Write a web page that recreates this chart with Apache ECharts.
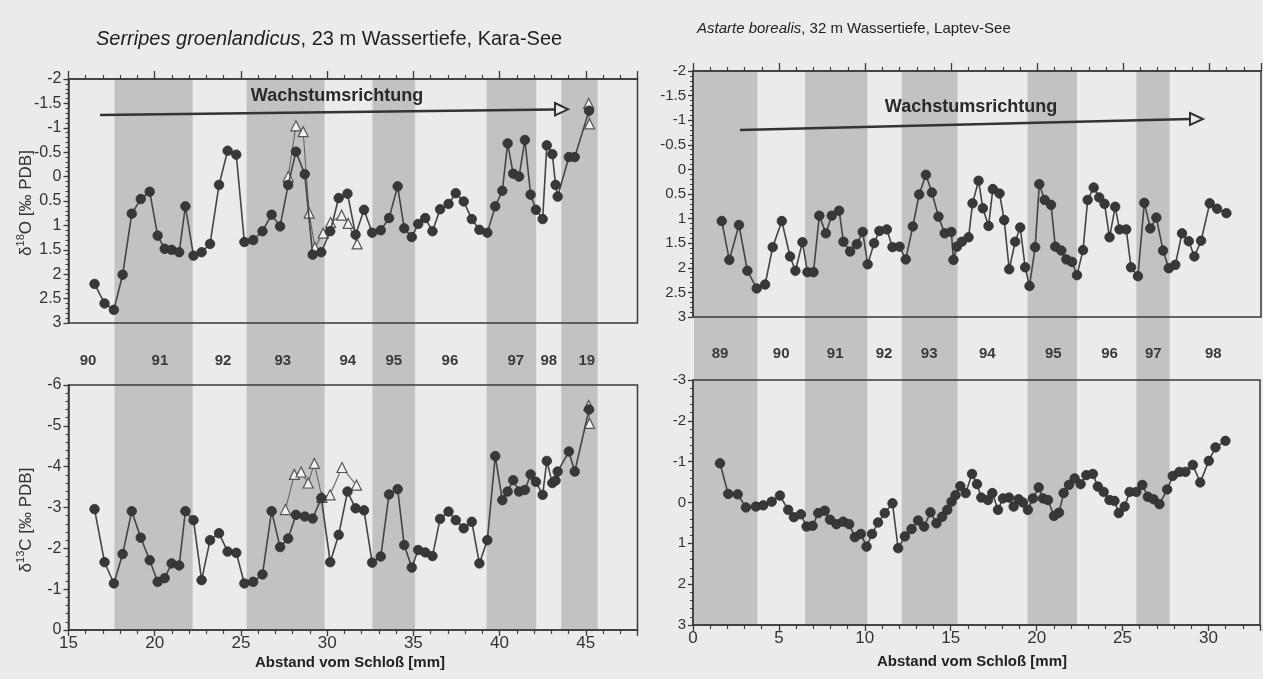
<!DOCTYPE html>
<html><head><meta charset="utf-8">
<script src="https://cdn.jsdelivr.net/npm/echarts@6/dist/echarts.min.js"></script>
<style>html,body{margin:0;padding:0;background:#ebebeb}#c{width:1263px;height:679px}</style>
</head><body><div id="c"></div>
<script>
// ---------- DATA ----------
// Serripes groenlandicus (Kara-See), distance from hinge [mm]
const serripesDist = [16.51,17.09,17.63,18.14,18.67,19.19,19.71,20.17,20.58,20.98,21.42,21.78,22.25,22.72,23.21,23.73,24.23,24.73,25.20,25.71,26.25,26.78,27.27,27.74,28.19,28.70,29.16,29.66,30.18,30.67,31.18,31.65,32.14,32.61,33.11,33.59,34.09,34.47,34.91,35.28,35.69,36.11,36.55,37.04,37.46,37.92,38.39,38.83,39.29,39.75,40.16,40.47,40.79,41.13,41.47,41.80,42.11,42.50,42.74,43.06,43.25,43.37,44.02,44.36,45.19];
const serripesO18 = [2.20,2.60,2.73,2.01,0.76,0.46,0.31,1.21,1.48,1.50,1.55,0.61,1.62,1.55,1.38,0.17,-0.53,-0.45,1.34,1.30,1.12,0.78,1.02,0.17,-0.51,-0.05,1.60,1.55,1.12,0.44,0.35,1.19,0.68,1.15,1.10,0.85,0.20,1.06,1.24,0.97,0.85,1.12,0.67,0.56,0.34,0.51,0.87,1.09,1.15,0.61,0.29,-0.68,-0.06,0.00,-0.75,0.37,0.68,0.87,-0.64,-0.46,0.17,0.41,-0.40,-0.40,-1.35];
const serripesC13 = [-2.96,-1.66,-1.14,-1.86,-2.91,-2.26,-1.71,-1.18,-1.27,-1.63,-1.58,-2.91,-2.69,-1.22,-2.20,-2.37,-1.92,-1.89,-1.14,-1.18,-1.36,-2.91,-2.03,-2.24,-2.82,-2.78,-2.73,-3.23,-1.66,-2.33,-3.39,-2.98,-2.93,-1.65,-1.80,-3.32,-3.45,-2.08,-1.53,-1.96,-1.90,-1.81,-2.72,-2.90,-2.69,-2.49,-2.65,-1.63,-2.20,-4.26,-3.18,-3.39,-3.67,-3.39,-3.43,-3.81,-3.63,-3.31,-4.14,-3.60,-3.66,-3.88,-4.37,-3.88,-5.40];
// second measurement series (open triangles); null = gap in the line
const serripesTriDistO18 = [27.74,28.19,28.61,28.96,29.29,29.77,30.20,30.84,31.22,31.74,null,45.17,45.22];
const serripesTriO18 = [0.00,-1.04,-0.92,0.75,1.45,1.16,0.94,0.79,0.96,1.38,null,-1.50,-1.08];
const serripesTriDistC13 = [27.58,28.10,28.49,28.90,29.26,29.70,30.17,30.86,31.70,null,45.17,45.22];
const serripesTriC13 = [-2.95,-3.81,-3.87,-3.60,-4.08,-3.25,-3.31,-3.98,-3.55,null,-5.50,-5.06];

// Astarte borealis (Laptev-See)
const astarteDistO18 = [1.67,2.11,2.67,3.16,3.70,4.19,4.63,5.16,5.64,5.95,6.36,6.65,7.00,7.34,7.72,8.06,8.49,8.74,9.13,9.52,9.86,10.15,10.52,10.83,11.26,11.59,12.00,12.36,12.77,13.14,13.53,13.88,14.26,14.62,15.01,15.13,15.33,15.62,16.01,16.24,16.59,16.84,17.17,17.42,17.81,18.08,18.37,18.72,19.01,19.30,19.55,19.88,20.12,20.43,20.80,21.05,21.40,21.69,22.02,22.31,22.66,22.93,23.28,23.60,23.91,24.20,24.53,24.78,25.17,25.45,25.85,26.22,26.57,26.92,27.31,27.64,28.02,28.41,28.80,29.13,29.52,30.02,30.45,30.99];
const astarteO18 = [1.05,1.84,1.13,2.06,2.42,2.34,1.58,1.05,1.77,2.06,1.48,2.09,2.09,0.94,1.30,0.94,0.84,1.47,1.67,1.52,1.27,1.93,1.50,1.25,1.22,1.58,1.57,1.83,1.16,0.51,0.11,0.47,0.96,1.30,1.27,1.84,1.57,1.47,1.38,0.69,0.23,0.79,1.15,0.40,0.49,1.03,2.03,1.47,1.18,1.99,2.37,1.58,0.30,0.62,0.72,1.57,1.65,1.83,1.88,2.15,1.64,0.62,0.37,0.57,0.70,1.38,0.76,1.22,1.22,1.99,2.17,0.68,1.20,0.98,1.65,2.01,1.94,1.30,1.46,1.77,1.45,0.69,0.80,0.89];
const astarteDistC13 = [1.57,2.05,2.60,3.08,3.66,4.09,4.58,5.06,5.54,5.87,6.28,6.61,6.96,7.29,7.67,7.97,8.35,8.74,9.09,9.42,9.77,10.10,10.42,10.77,11.16,11.61,11.94,12.33,12.72,13.10,13.45,13.82,14.17,14.50,14.80,15.05,15.28,15.56,15.87,16.24,16.53,16.78,17.17,17.42,17.75,18.04,18.39,18.66,18.95,19.20,19.49,19.78,20.12,20.37,20.66,21.01,21.30,21.57,21.88,22.21,22.56,22.89,23.27,23.56,23.90,24.24,24.53,24.78,25.12,25.41,25.80,26.15,26.47,26.80,27.15,27.60,27.92,28.31,28.66,29.09,29.52,30.02,30.41,30.99];
const astarteC13 = [-0.96,-0.21,-0.20,0.12,0.10,0.07,-0.02,-0.17,0.18,0.36,0.29,0.59,0.57,0.26,0.20,0.42,0.53,0.47,0.53,0.85,0.77,1.08,0.77,0.49,0.26,0.02,1.12,0.83,0.65,0.44,0.59,0.24,0.51,0.35,0.18,-0.02,-0.18,-0.40,-0.23,-0.70,-0.45,-0.12,-0.06,-0.23,0.18,-0.10,-0.12,0.10,-0.08,0.00,0.18,-0.10,-0.37,-0.10,-0.06,0.33,0.25,-0.23,-0.43,-0.59,-0.45,-0.67,-0.70,-0.39,-0.26,-0.06,-0.04,0.26,0.10,-0.26,-0.26,-0.43,-0.14,-0.08,0.04,-0.32,-0.65,-0.75,-0.75,-0.92,-0.49,-1.02,-1.35,-1.51];

// shaded growth bands [start, end] in mm
const serripesBands = [[17.67,22.20],[25.33,29.85],[32.63,35.10],[39.25,42.12],[43.58,45.69]];
const astarteBands = [[0.06,3.74],[6.51,10.13],[12.13,15.37],[19.44,22.31],[25.76,27.69]];
// year labels and their positions [mm]
const serripesYears = ['90','91','92','93','94','95','96','97','98','19'];
const serripesYearPos = [16.13,20.30,23.96,27.43,31.20,33.87,37.12,40.94,42.86,45.06];
const astarteYears = ['89','90','91','92','93','94','95','96','97','98'];
const astarteYearPos = [1.57,5.12,8.26,11.10,13.72,17.10,20.93,24.20,26.74,30.23];
// axis ranges [min, max, interval]
const serripesXRange = [15, 48, 5];
const astarteXRange = [0, 33, 5];
const o18Range = [-2, 3, 0.5];
const serripesC13Range = [-6, 0, 1];
const astarteC13Range = [-3, 3, 1];

// ---------- CHART ----------
const FONT = 'Liberation Sans, Arial, Helvetica, sans-serif';
const INK = '#333';
const AX = '#3a3a3a';
const pairs = (xs, ys) => xs.map((x, i) => [x == null ? '-' : x, ys[i] == null ? '-' : ys[i]]);

const G = {
  lt: {left: 68.5, top: 79, width: 569, height: 244},
  lb: {left: 68.5, top: 385, width: 569, height: 245},
  rt: {left: 693, top: 71, width: 568, height: 246},
  rb: {left: 693, top: 380, width: 568, height: 245},
  lBand: {left: 68.5, top: 79, width: 569, height: 551},
  rBand: {left: 693, top: 71, width: 568, height: 554}
};
function grid(g, show) {
  return Object.assign({show: show, borderColor: AX, borderWidth: 1.5, backgroundColor: 'transparent', containLabel: false, z: 3}, g);
}
function xAx(gi, r, pos, labels, fs, show) {
  return {
    type: 'value', gridIndex: gi, min: r[0], max: r[1], interval: r[2], position: pos, show: show !== false, z: 3,
    axisLine: {show: true, onZero: false, lineStyle: {color: AX, width: 1.5}},
    axisTick: {show: true, length: pos === 'top' ? 8 : 6, lineStyle: {color: AX, width: 1.3}},
    minorTick: {show: true, splitNumber: 5, length: 4, lineStyle: {color: AX, width: 1.1}},
    splitLine: {show: false},
    axisLabel: {show: labels, color: INK, fontSize: fs, fontFamily: FONT, margin: 5,
      formatter: v => (Math.abs(v % r[2]) < 1e-9 ? String(v) : '')}
  };
}
function yAx(gi, r, fs, show) {
  return {
    type: 'value', gridIndex: gi, min: r[0], max: r[1], interval: r[2], inverse: true, show: show !== false, z: 3,
    axisLine: {show: true, onZero: false, lineStyle: {color: AX, width: 1.5}},
    axisTick: {show: true, length: 5, lineStyle: {color: AX, width: 1.3}},
    minorTick: {show: true, splitNumber: 5, length: 3, lineStyle: {color: AX, width: 1}},
    splitLine: {show: false},
    axisLabel: {color: INK, fontSize: fs, fontFamily: FONT, margin: 7}
  };
}
function circles(xi, data) {
  return {type: 'line', xAxisIndex: xi, yAxisIndex: xi, data: data, symbol: 'circle', symbolSize: 9.5,
    itemStyle: {color: '#383838', borderColor: '#2e2e2e', borderWidth: 0.8},
    lineStyle: {color: '#444', width: 1.6}, z: 6, animation: false, silent: true};
}
function triangles(xi, data) {
  return {type: 'line', xAxisIndex: xi, yAxisIndex: xi, data: data, symbol: 'triangle', symbolSize: 10,
    connectNulls: false, showAllSymbol: true,
    itemStyle: {color: '#f1f1f1', borderColor: '#555', borderWidth: 1.2},
    lineStyle: {color: '#666', width: 1.1}, z: 5, animation: false, silent: true};
}
function bands(xi, data) {
  return {type: 'custom', xAxisIndex: xi, yAxisIndex: xi, data: data, z: 1, silent: true, animation: false,
    encode: {x: [0, 1]},
    renderItem: (params, api) => {
      const a = api.coord([api.value(0), 0]);
      const b = api.coord([api.value(1), 1]);
      return {type: 'rect', shape: {x: a[0], y: b[1], width: b[0] - a[0], height: a[1] - b[1]},
        style: {fill: '#c2c2c2'}};
    }};
}
function years(xi, pos, labels, yPix) {
  return {type: 'custom', xAxisIndex: xi, yAxisIndex: xi, data: pos.map(p => [p, 0.5]), z: 4, silent: true, animation: false,
    encode: {x: 0},
    renderItem: (params, api) => {
      const c = api.coord([api.value(0), 0.5]);
      return {type: 'text', x: c[0], y: yPix,
        style: {text: labels[params.dataIndex], fill: '#3a3a3a', font: 'bold 15px ' + FONT, align: 'center', verticalAlign: 'middle'}};
    }};
}
const supRich = {
  d: {fontSize: 17, fontFamily: FONT, fill: '#333', lineHeight: 20, verticalAlign: 'bottom'},
  s: {fontSize: 11, fontFamily: FONT, fill: '#333', lineHeight: 20, verticalAlign: 'top'}
};

const chart = echarts.init(document.getElementById('c'), null, {renderer: 'canvas'});
chart.setOption({
  backgroundColor: '#ebebeb',
  animation: false,
  grid: [grid(G.lt, true), grid(G.lb, true), grid(G.rt, true), grid(G.rb, true), grid(G.lBand, false), grid(G.rBand, false)],
  xAxis: [
    xAx(0, serripesXRange, 'top', false, 16),
    xAx(1, serripesXRange, 'bottom', true, 17),
    xAx(2, astarteXRange, 'top', false, 16),
    xAx(3, astarteXRange, 'bottom', true, 17),
    Object.assign(xAx(4, serripesXRange, 'bottom', false, 10), {show: false}),
    Object.assign(xAx(5, astarteXRange, 'bottom', false, 10), {show: false})
  ],
  yAxis: [
    yAx(0, o18Range, 16),
    yAx(1, serripesC13Range, 16),
    yAx(2, o18Range, 15),
    yAx(3, astarteC13Range, 15),
    {type: 'value', gridIndex: 4, min: 0, max: 1, show: false},
    {type: 'value', gridIndex: 5, min: 0, max: 1, show: false}
  ],
  series: [
    bands(4, serripesBands),
    bands(5, astarteBands),
    years(4, serripesYearPos, serripesYears, 361),
    years(5, astarteYearPos, astarteYears, 354),
    triangles(0, pairs(serripesTriDistO18, serripesTriO18)),
    triangles(1, pairs(serripesTriDistC13, serripesTriC13)),
    circles(0, pairs(serripesDist, serripesO18)),
    circles(1, pairs(serripesDist, serripesC13)),
    circles(2, pairs(astarteDistO18, astarteO18)),
    circles(3, pairs(astarteDistC13, astarteC13))
  ],
  graphic: [
    {type: 'text', left: 96, top: 29, z: 10, style: {
      text: '{i|Serripes groenlandicus}, 23 m Wassertiefe, Kara-See',
      font: '20px ' + FONT, fill: '#222',
      rich: {i: {fontStyle: 'italic', fontSize: 20, fontFamily: FONT, fill: '#222'}}}},
    {type: 'text', left: 697, top: 21, z: 10, style: {
      text: '{i|Astarte borealis}, 32 m Wassertiefe, Laptev-See',
      font: '15px ' + FONT, fill: '#222',
      rich: {i: {fontStyle: 'italic', fontSize: 15, fontFamily: FONT, fill: '#222'}}}},
    // growth direction annotations
    {type: 'text', x: 337, y: 96, z: 10, style: {text: 'Wachstumsrichtung', font: 'bold 18px ' + FONT, fill: '#2a2a2a', align: 'center', verticalAlign: 'middle'}},
    {type: 'line', z: 10, shape: {x1: 100, y1: 115, x2: 555, y2: 109.5}, style: {stroke: '#333', lineWidth: 2.5}},
    {type: 'polygon', z: 10, shape: {points: [[555, 103], [568, 109.3], [555, 115.5]]}, style: {fill: '#ebebeb', stroke: '#333', lineWidth: 2}},
    {type: 'text', x: 971, y: 107, z: 10, style: {text: 'Wachstumsrichtung', font: 'bold 18px ' + FONT, fill: '#2a2a2a', align: 'center', verticalAlign: 'middle'}},
    {type: 'line', z: 10, shape: {x1: 740, y1: 130, x2: 1190, y2: 119}, style: {stroke: '#333', lineWidth: 2.5}},
    {type: 'polygon', z: 10, shape: {points: [[1190, 113], [1203, 119], [1190, 125]]}, style: {fill: '#ebebeb', stroke: '#333', lineWidth: 2}},
    // axis names
    {type: 'text', x: 25, y: 203, rotation: Math.PI / 2, z: 10, style: {
      text: '{d|δ}{s|18}{d|O [‰ PDB]}', align: 'center', verticalAlign: 'middle', fill: '#333', rich: supRich}},
    {type: 'text', x: 25, y: 520, rotation: Math.PI / 2, z: 10, style: {
      text: '{d|δ}{s|13}{d|C [‰ PDB]}', align: 'center', verticalAlign: 'middle', fill: '#333', rich: supRich}},
    {type: 'text', x: 350, y: 663, z: 10, style: {text: 'Abstand vom Schloß [mm]', font: 'bold 15px ' + FONT, fill: '#222', align: 'center', verticalAlign: 'middle'}},
    {type: 'text', x: 972, y: 662, z: 10, style: {text: 'Abstand vom Schloß [mm]', font: 'bold 15px ' + FONT, fill: '#222', align: 'center', verticalAlign: 'middle'}}
  ]
});
</script></body></html>
